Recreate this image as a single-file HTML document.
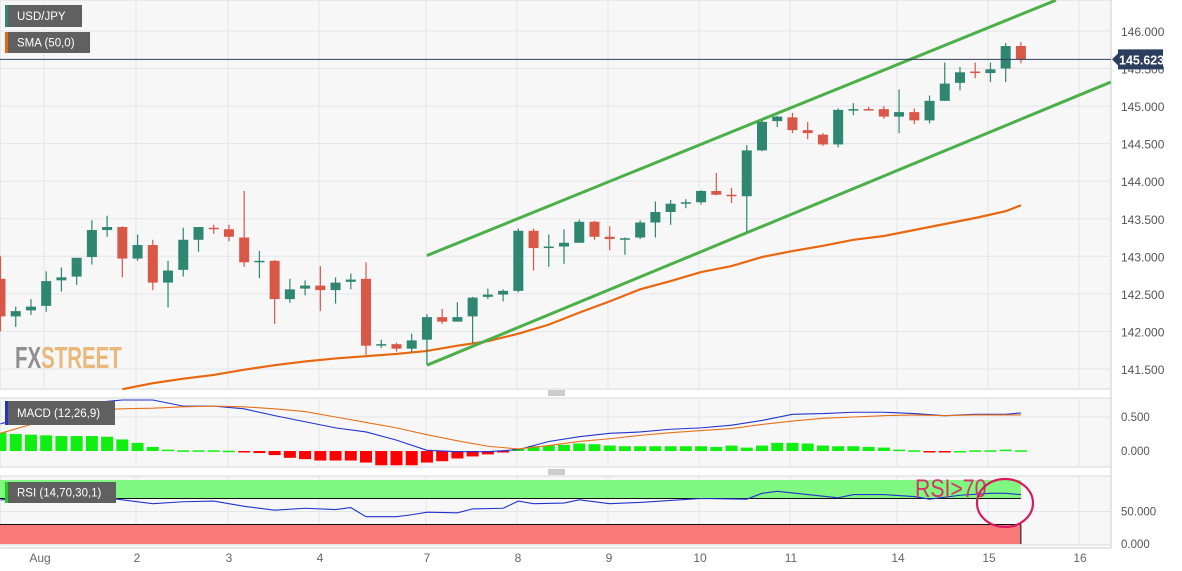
<!DOCTYPE html>
<html><head><meta charset="utf-8"><style>
html,body{margin:0;padding:0;background:#fff;}
svg{display:block;font-family:"Liberation Sans",sans-serif;}
</style></head><body>
<svg id="c" width="1182" height="571" xmlns="http://www.w3.org/2000/svg"></svg>
<script>
// ---- data ----
const opens  = [142.7,142.20,142.28,142.34,142.68,142.73,142.99,143.35,143.39,142.97,143.15,142.65,142.82,143.22,143.38,143.36,143.25,142.93,142.94,142.43,142.57,142.61,142.55,142.66,142.70,141.81,141.83,141.77,141.89,142.19,142.13,142.20,142.46,142.49,142.54,143.34,143.11,143.13,143.18,143.46,143.26,143.23,143.25,143.45,143.59,143.70,143.72,143.87,143.82,143.80,144.41,144.80,144.85,144.68,144.62,144.49,144.95,144.96,144.96,144.86,144.92,144.81,145.07,145.31,145.46,145.44,145.50,145.80];
const closes = [142.2,142.27,142.33,142.67,142.72,142.98,143.35,143.39,142.97,143.15,142.65,142.81,143.22,143.39,143.36,143.26,142.92,142.94,142.43,142.56,142.61,142.55,142.65,142.69,141.81,141.83,141.77,141.88,142.19,142.13,142.19,142.45,142.49,142.54,143.34,143.11,143.13,143.18,143.46,143.26,143.23,143.24,143.45,143.59,143.70,143.72,143.87,143.82,143.80,144.41,144.79,144.86,144.68,144.64,144.49,144.95,144.96,144.955,144.86,144.92,144.81,145.07,145.30,145.45,145.44,145.49,145.80,145.62];
const highs  = [143.0,142.33,142.43,142.80,142.85,142.98,143.48,143.54,143.40,143.29,143.22,142.94,143.38,143.39,143.42,143.42,143.87,143.07,142.95,142.70,142.68,142.87,142.72,142.77,142.92,141.89,141.85,141.97,142.23,142.30,142.39,142.46,142.57,142.56,143.37,143.37,143.29,143.36,143.49,143.47,143.40,143.25,143.48,143.73,143.75,143.76,143.88,144.11,143.91,144.48,144.81,144.87,144.91,144.79,144.64,144.97,145.04,144.99,145.00,145.22,144.97,145.14,145.58,145.52,145.58,145.58,145.84,145.85];
const lows   = [142.0,142.06,142.22,142.26,142.53,142.62,142.89,143.26,142.72,142.94,142.55,142.32,142.73,143.06,143.30,143.20,142.86,142.71,142.10,142.38,142.48,142.27,142.37,142.56,141.69,141.78,141.73,141.72,141.56,142.10,142.13,141.84,142.43,142.40,142.52,142.81,142.86,142.90,143.18,143.22,143.08,143.02,143.23,143.25,143.42,143.64,143.69,143.81,143.71,143.32,144.40,144.72,144.64,144.56,144.47,144.45,144.88,144.94,144.83,144.64,144.76,144.77,145.07,145.21,145.37,145.32,145.32,145.57];
const smaIdx = [8,10,12,14,16,18,20,22,24,26,28,30,32,34,36,38,40,42,44,46,48,50,52,54,56,58,60,62,64,66,67];
const smaVal = [141.23,141.31,141.37,141.42,141.49,141.55,141.60,141.64,141.67,141.70,141.74,141.81,141.87,141.97,142.09,142.25,142.40,142.56,142.67,142.79,142.87,142.99,143.07,143.14,143.22,143.27,143.35,143.43,143.51,143.60,143.68];
const priceTicks = [146.0,145.5,145.0,144.5,144.0,143.5,143.0,142.5,142.0,141.5];
const dayLabels = ["Aug","2","3","4","7","8","9","10","11","14","15","16"];
const dayX = [40,137,229,320,427,518,609,700,791,898,989,1080];
const lastPrice = 145.623;
const macdIdx = [0,2,4,6,8,10,12,14,16,18,20,22,24,26,28,30,32,34,36,38,40,42,44,46,48,50,52,54,56,58,60,62,64,66,67];
const macdLine = [0.40,0.52,0.62,0.71,0.75,0.75,0.66,0.66,0.62,0.52,0.43,0.34,0.28,0.16,0.01,-0.01,-0.01,0.02,0.14,0.21,0.26,0.28,0.32,0.34,0.38,0.45,0.54,0.55,0.57,0.57,0.55,0.52,0.54,0.54,0.56];
const signalLine = [0.26,0.39,0.52,0.60,0.62,0.63,0.65,0.66,0.65,0.62,0.58,0.50,0.42,0.34,0.24,0.15,0.07,0.03,0.08,0.14,0.18,0.23,0.27,0.30,0.33,0.39,0.44,0.48,0.50,0.52,0.53,0.52,0.53,0.53,0.53];
const macdHist = [0.27,0.25,0.24,0.23,0.22,0.22,0.22,0.21,0.17,0.12,0.06,0.02,0.01,0.01,0.01,0.004,-0.005,-0.03,-0.06,-0.10,-0.12,-0.14,-0.14,-0.14,-0.17,-0.21,-0.21,-0.21,-0.17,-0.15,-0.11,-0.08,-0.05,-0.02,0.03,0.07,0.08,0.09,0.11,0.10,0.08,0.07,0.07,0.07,0.07,0.07,0.07,0.06,0.08,0.05,0.08,0.12,0.12,0.11,0.08,0.07,0.07,0.06,0.05,0.02,0.01,-0.01,-0.01,0,0.01,0.01,0.02,0.01];
const rsiIdx = [0,7,8,10,12,14,16,18,20,22,23,24,26,27,28,30,31,33,34,35,37,38,40,42,44,46,49,50,51,53,55,56,58,60,61,63,65,66,67];
const rsiVal = [68,71,68,62,65,66,58,52,55,53,56,42,42,45,49,48,54,55,66,62,63,68,62,64,67,70,69,78,81,76,71,76,76,73,69,75,78,78,76];

// ---- setup ----
const NS="http://www.w3.org/2000/svg";
const svg=document.getElementById('c');
function el(tag,attrs,parent){const e=document.createElementNS(NS,tag);for(const k in attrs)e.setAttribute(k,attrs[k]);(parent||svg).appendChild(e);return e;}
const xI=i=>i*15.23+0.5;
const yP=p=>31+(146-p)*75.1;
const yM=v=>451-v*68;
const yR=v=>544-v*0.65;
const PW=1111;

el('rect',{x:0,y:0,width:1182,height:571,fill:'#ffffff'});
let r=el('rect',{x:0,y:0,width:PW,height:389,fill:'#f7f7f7',stroke:'#d6d9de'});

r=el('rect',{x:0,y:398,width:PW,height:69,fill:'#f7f7f7',stroke:'#d6d9de'});

r=el('rect',{x:0,y:476,width:PW,height:69,fill:'#f7f7f7',stroke:'#d6d9de'});

el('line',{x1:PW,y1:0,x2:PW,y2:548,stroke:'#c8ccd2'});
[393,472].forEach(y=>{const g=el('g',{});
 [-2,0,2].forEach(d=>el('line',{x1:548,x2:565,y1:y+d,y2:y+d,stroke:'#777','stroke-width':0.8},g));});

const grid=el('g',{});
priceTicks.forEach(p=>el('line',{x1:0,x2:PW,y1:yP(p),y2:yP(p),stroke:'#e3e5e8'},grid));
dayX.slice(1).forEach((x,k)=>{[[0,389],[398,467],[476,545]].forEach(([a,b])=>el('line',{x1:x-1,x2:x-1,y1:a,y2:b,stroke:'#e3e5e8'},grid));});
el('line',{x1:44,x2:44,y1:0,y2:389,stroke:'#e3e5e8'},grid);
el('line',{x1:0,x2:PW,y1:yM(0.5),y2:yM(0.5),stroke:'#e3e5e8'},grid);
el('line',{x1:0,x2:PW,y1:yR(50),y2:yR(50),stroke:'#e3e5e8'},grid);

const wm=el('text',{x:15,y:368,'font-size':31,'font-weight':'bold',transform:'translate(15,0) scale(0.66,1) translate(-15,0)'});

const t1=el('tspan',{fill:'#8f8f8f'},wm);t1.textContent='FX';
const t2=el('tspan',{fill:'#ebb87c'},wm);t2.textContent='STREET';

let pts=smaIdx.map((i,k)=>xI(i)+','+yP(smaVal[k])).join(' ');
let sma=el('polyline',{points:pts,fill:'none',stroke:'#e8670f','stroke-width':2.2});


const ch=el('g',{});
el('line',{x1:xI(28),y1:yP(143.01),x2:xI(69.3),y2:yP(146.41),stroke:'#4cb04a','stroke-width':3},ch);
el('line',{x1:xI(28),y1:yP(141.55),x2:xI(72.9),y2:yP(145.32),stroke:'#4cb04a','stroke-width':3},ch);

const cg=el('g',{});
opens.forEach((o,i)=>{
 const c=closes[i],up=c>=o,col=up?'#2f8671':'#d95747',x=xI(i);
 const g=el('g',{},cg);
 
 
 el('line',{x1:x,x2:x,y1:yP(highs[i]),y2:yP(lows[i]),stroke:col,'stroke-width':1.2},g);
 const top=yP(Math.max(o,c)),h=Math.max(1.5,Math.abs(yP(o)-yP(c)));
 el('rect',{x:x-5,y:top,width:10,height:h,fill:col},g);
});

el('line',{x1:0,x2:PW,y1:yP(lastPrice),y2:yP(lastPrice),stroke:'#2c3e5c','stroke-width':1});

priceTicks.forEach(p=>{const t=el('text',{x:1121,y:yP(p)+5,'font-size':12,fill:'#555'});t.textContent=p.toFixed(3);});
const lb=el('g',{});
const ly=yP(lastPrice);
el('path',{d:`M1112 ${ly} L1118 ${ly-6} L1118 ${ly-10} L1163 ${ly-10} L1163 ${ly+10} L1118 ${ly+10} L1118 ${ly+6} Z`,fill:'#2b3e5d'},lb);
const lt=el('text',{x:1119,y:ly+5,'font-size':12.5,'font-weight':'bold',fill:'#fff'},lb);lt.textContent=lastPrice.toFixed(3);

function legend(x,y,w,h,col,txt,name){const g=el('g',{});
 el('rect',{x:x,y:y,width:w,height:h,fill:'#606060'},g);el('rect',{x:x,y:y,width:3,height:h,fill:col},g);
 const t=el('text',{x:x+12,y:y+h/2+4,'font-size':11.5,fill:'#fff'},g);t.textContent=txt;}
legend(5,5,77,22,'#2f8671','USD/JPY','usdjpy-legend');
legend(5,32,85,21,'#e8670f','SMA (50,0)','sma-legend');

const mh=el('g',{});
macdHist.forEach((v,i)=>{const y0=yM(0),y1=yM(v);const b=el('rect',{x:xI(i)-6,y:Math.min(y0,y1),width:12,height:Math.max(1.5,Math.abs(y1-y0)),fill:v>=0?'#11ee11':'#ff0000'},mh);
 });
let ml=el('polyline',{points:macdIdx.map((i,k)=>xI(i)+','+yM(macdLine[k])).join(' '),fill:'none',stroke:'#2233cc','stroke-width':1.1});

let sl=el('polyline',{points:macdIdx.map((i,k)=>xI(i)+','+yM(signalLine[k])).join(' '),fill:'none',stroke:'#e8701a','stroke-width':1.1});

legend(5,401,110,24,'#2233cc','MACD (12,26,9)','macd-legend');
[[0.5,'0.500'],[0,'0.000']].forEach(([v,s])=>{const t=el('text',{x:1121,y:yM(v)+4,'font-size':11.5,fill:'#555'});t.textContent=s;});

const bandEnd=xI(67);
let gb=el('rect',{x:0,y:yR(100)+1,width:bandEnd,height:yR(70)-yR(100)-1,fill:'#80f780'});
el('line',{x1:0,x2:bandEnd,y1:yR(70),y2:yR(70),stroke:'#111','stroke-width':1});
let rb=el('rect',{x:0,y:yR(30),width:bandEnd,height:yR(0)-yR(30),fill:'#f87a78'});
el('line',{x1:0,x2:bandEnd,y1:yR(30),y2:yR(30),stroke:'#111','stroke-width':1});
el('line',{x1:bandEnd,x2:bandEnd,y1:yR(30),y2:yR(0),stroke:'#111','stroke-width':1});
let rl=el('polyline',{points:rsiIdx.map((i,k)=>xI(i)+','+yR(rsiVal[k])).join(' '),fill:'none',stroke:'#2233cc','stroke-width':1.1});

legend(5,482,111,21,'#22cc22','RSI (14,70,30,1)','rsi-legend');
[[50,'50.000'],[0,'0.000']].forEach(([v,s])=>{const t=el('text',{x:1121,y:yR(v)+4,'font-size':11.5,fill:'#555'});t.textContent=s;});
let ann=el('text',{x:915,y:497,'font-size':25,fill:'#d6336c',transform:'translate(915,0) scale(0.85,1) translate(-915,0)'});
ann.textContent='RSI>70';
let ci=el('ellipse',{cx:1005,cy:503,rx:28,ry:24,fill:'none',stroke:'#d81b60','stroke-width':2.2});


el('line',{x1:0,x2:PW,y1:548,y2:548,stroke:'#c8ccd2'});
dayLabels.forEach((d,k)=>{const t=el('text',{x:dayX[k],y:562,'font-size':12,fill:'#666','text-anchor':'middle'});t.textContent=d;});
</script>
</body></html>
